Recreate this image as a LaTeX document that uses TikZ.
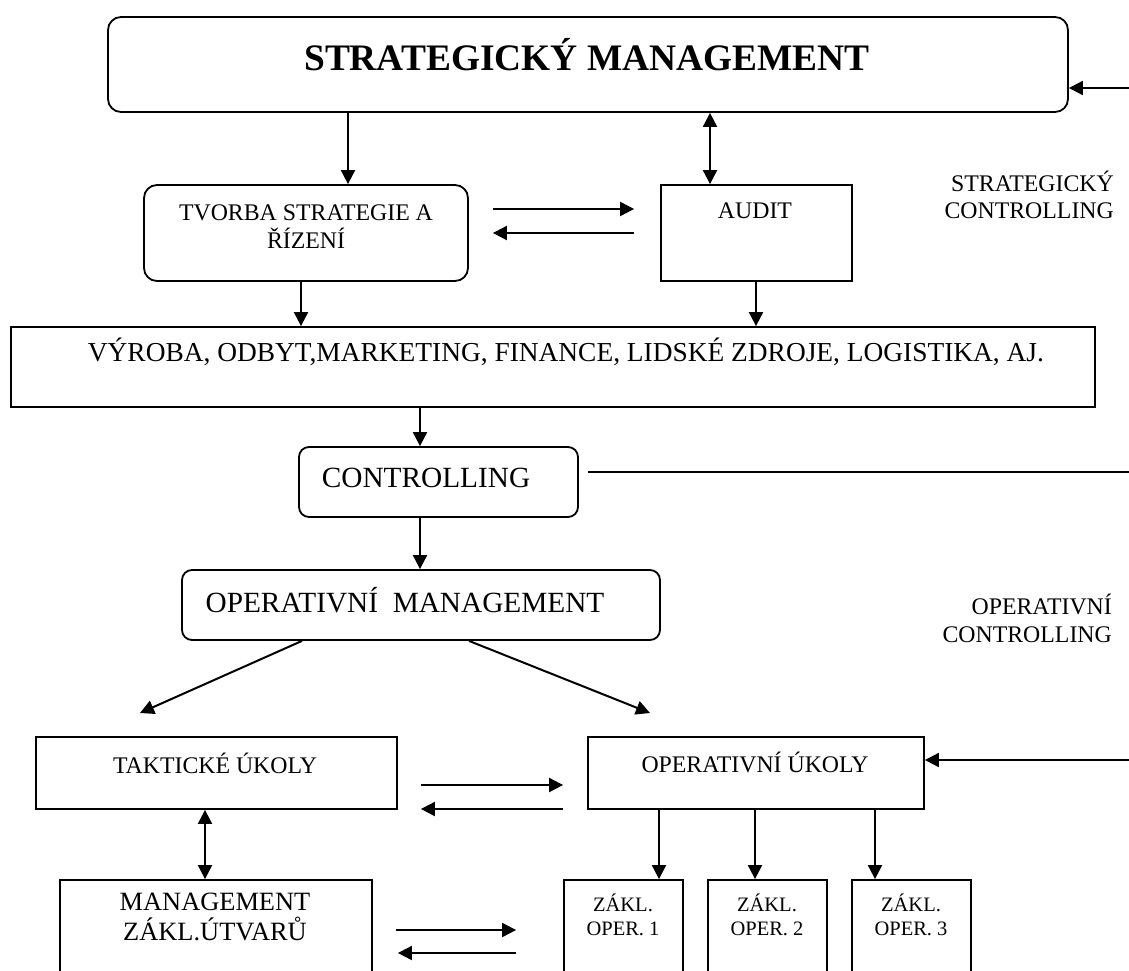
\documentclass[tikz,border=0pt]{standalone}
\usepackage{fontspec}
\setmainfont{Liberation Serif}
\usetikzlibrary{arrows.meta,calc}
\begin{document}
\begin{tikzpicture}[x=1pt,y=-1pt,
  box/.style={draw, line width=1.8pt, inner sep=0pt},
  rbox/.style={box, rounded corners=13pt},
  tip/.tip={Triangle[length=14pt,width=14pt]},
  arr/.style={line width=2pt, -tip},
  darr/.style={line width=2pt, tip-tip},
  plain/.style={line width=2pt},
  txt/.style={inner sep=0pt, align=center},
  fA/.style={font=\fontsize{23.8}{27.8}\selectfont},
  fB/.style={font=\fontsize{27.4}{31}\selectfont},
  fC/.style={font=\fontsize{29.3}{33}\selectfont},
  fD/.style={font=\fontsize{26.4}{30}\selectfont},
  fE/.style={font=\fontsize{20.5}{24}\selectfont},
  side/.style={txt, fA, align=right, anchor=east}]
\useasboundingbox (0,0) rectangle (1129,971);
\clip (0,0) rectangle (1129,971);

% boxes
\node[rbox, minimum width=960pt, minimum height=95pt] (sm) at (588,64.5) {};
\node[rbox, minimum width=324pt, minimum height=96pt] (tv) at (306,233) {};
\node[box,  minimum width=191pt, minimum height=96pt] (au) at (756.5,233) {};
\node[box,  minimum width=1084pt, minimum height=80pt] (vy) at (553,367) {};
\node[rbox, rounded corners=10pt, minimum width=279pt, minimum height=70pt] (co) at (438.5,482) {};
\node[rbox, rounded corners=10pt, minimum width=478pt, minimum height=70pt] (om) at (421,605) {};
\node[box,  minimum width=361pt, minimum height=72pt] (tu) at (216.5,773) {};
\node[box,  minimum width=336pt, minimum height=72pt] (ou) at (756,773) {};
\node[box,  minimum width=312pt, minimum height=120pt] (mz) at (216,940) {};
\node[box,  minimum width=119pt, minimum height=120pt] (z1) at (623.5,940) {};
\node[box,  minimum width=119pt, minimum height=120pt] (z2) at (767.5,940) {};
\node[box,  minimum width=119pt, minimum height=120pt] (z3) at (911.5,940) {};

% texts
\node[txt, font=\fontsize{37.4}{42}\bfseries\selectfont] (smt) at (587,55) {STRATEGICKÝ MANAGEMENT};
\node[txt, fA] (tvt) at (306,227) {TVORBA STRATEGIE A\\ŘÍZENÍ};
\node[txt, fA] (aut) at (755,211) {AUDIT};
\node[txt, fB] (vyt) at (566,352) {VÝROBA, ODBYT,MARKETING, FINANCE, LIDSKÉ ZDROJE, LOGISTIKA, AJ.};
\node[txt, fC] (cot) at (426,478) {CONTROLLING};
\node[txt, fC] (omt) at (405,600) {OPERATIVNÍ\ \ MANAGEMENT};
\node[txt, fA] (tut) at (215,763) {TAKTICKÉ ÚKOLY};
\node[txt, fA] (out) at (755,762) {OPERATIVNÍ ÚKOLY};
\node[txt, fD] (mzt) at (215,917) {MANAGEMENT\\ZÁKL.ÚTVARŮ};
\node[txt, fE] (z1t) at (623,915) {ZÁKL.\\OPER. 1};
\node[txt, fE] (z2t) at (767,915) {ZÁKL.\\OPER. 2};
\node[txt, fE] (z3t) at (911,915) {ZÁKL.\\OPER. 3};
\node[side] (sc) at (1114,195) {STRATEGICKÝ\\CONTROLLING};
\node[side] (oc) at (1112,618) {OPERATIVNÍ\\CONTROLLING};

% free ends of connectors
\coordinate (inS) at (1129,88);
\coordinate (coR) at (1129,472);
\coordinate (inO) at (1129,760);
\coordinate (omL) at (140,713);
\coordinate (omR) at (650,713);

% connectors
\draw[arr]  (inS) -- (inS -| sm.east);
\draw[arr]  (348,0 |- sm.south) -- (348,0 |- tv.north);
\draw[darr] (710,0 |- sm.south) -- (710,0 |- au.north);
\draw[arr]  ($(tv.east |- 0,209)+(24,0)$) -- ($(au.west |- 0,209)+(-26,0)$);
\draw[arr]  ($(au.west |- 0,233)+(-26,0)$) -- ($(tv.east |- 0,233)+(24,0)$);
\draw[arr]  (301,0 |- tv.south) -- (301,0 |- vy.north);
\draw[arr]  (756,0 |- au.south) -- (756,0 |- vy.north);
\draw[arr]  (420,0 |- vy.south) -- (420,0 |- co.north);
\draw[plain] ($(co.east |- coR)+(9,0)$) -- (coR);
\draw[arr]  (420,0 |- co.south) -- (420,0 |- om.north);
\draw[arr]  (302,0 |- om.south) -- (omL);
\draw[arr]  (469,0 |- om.south) -- (omR);
\draw[arr]  (inO) -- (inO -| ou.east);
\draw[arr]  ($(tu.east |- 0,785)+(23,0)$) -- ($(ou.west |- 0,785)+(-24,0)$);
\draw[arr]  ($(ou.west |- 0,809)+(-24,0)$) -- ($(tu.east |- 0,809)+(23,0)$);
\draw[darr] (205,0 |- tu.south) -- (205,0 |- mz.north);
\draw[arr]  (659,0 |- ou.south) -- (659,0 |- z1.north);
\draw[arr]  (755,0 |- ou.south) -- (755,0 |- z2.north);
\draw[arr]  (875,0 |- ou.south) -- (875,0 |- z3.north);
\draw[arr]  ($(mz.east |- 0,930)+(23,0)$) -- ($(z1.west |- 0,930)+(-47,0)$);
\draw[arr]  ($(z1.west |- 0,953)+(-47,0)$) -- ($(mz.east |- 0,953)+(25,0)$);
\end{tikzpicture}
\end{document}
